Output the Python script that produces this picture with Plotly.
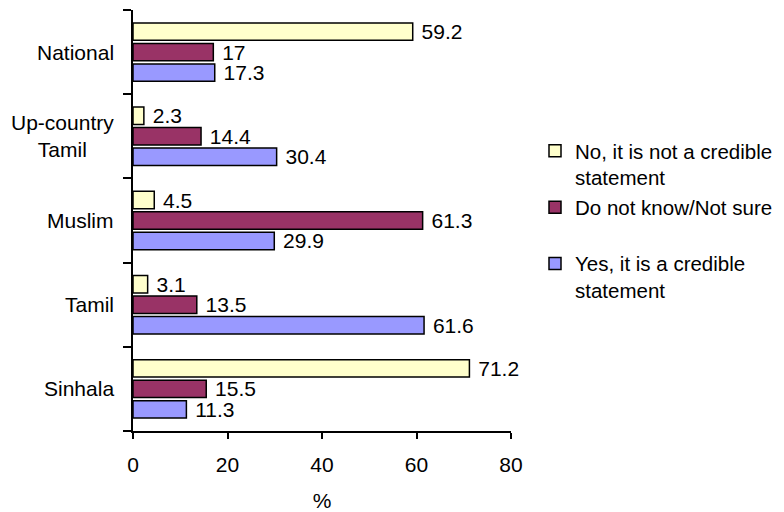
import plotly.graph_objects as go

categories = ["Sinhala", "Tamil", "Muslim", "Up-country Tamil", "National"]
category_labels = ["Sinhala", "Tamil", "Muslim", "Up-country<br>Tamil", "National"]
no_values = [71.2, 3.1, 4.5, 2.3, 59.2]
dk_values = [15.5, 13.5, 61.3, 14.4, 17]
yes_values = [11.3, 61.6, 29.9, 30.4, 17.3]
series_names = ["No, it is not a credible<br>statement",
                "Do not know/Not sure<br>\u00a0",
                "Yes, it is a credible<br>statement"]
x_ticks = [0, 20, 40, 60, 80]

FONT = "Liberation Sans, Arial, sans-serif"
FS = 21

fig = go.Figure()
for name, vals, col in [
    (series_names[2], yes_values, "#9999FF"),
    (series_names[1], dk_values, "#993366"),
    (series_names[0], no_values, "#FFFFCC"),
]:
    fig.add_trace(go.Bar(
        y=categories, x=vals, name=name, orientation="h",
        marker=dict(color=col, line=dict(color="black", width=1.5)),
        texttemplate="\u00a0%{x}", textposition="outside",
        textfont=dict(family=FONT, size=FS, color="black"),
        constraintext="none", cliponaxis=False,
    ))

for cat, lab in zip(categories, category_labels):
    fig.add_annotation(x=0, xref="paper", y=cat, yref="y", text=lab,
                       showarrow=False, xanchor="right", yanchor="middle",
                       xshift=-17, align="center",
                       font=dict(family=FONT, size=FS, color="black"))

fig.update_layout(
    width=784, height=512,
    margin=dict(l=133, r=273, t=10, b=81),
    paper_bgcolor="white", plot_bgcolor="white",
    barmode="group", bargap=0.27, bargroupgap=0.15,
    font=dict(family=FONT, size=FS, color="black"),
    legend=dict(xref="container", yref="container",
                x=535 / 784, y=1 - 131 / 512, xanchor="left", yanchor="top",
                traceorder="reversed", valign="top",
                font=dict(family=FONT, size=20.5, color="black"),
                bgcolor="rgba(0,0,0,0)"),
    showlegend=True,
)
fig.update_xaxes(range=[0, 80], tickvals=x_ticks, showgrid=False, zeroline=False,
                 showline=True, linecolor="black", linewidth=1.5,
                 ticks="outside", ticklen=6, tickwidth=1.5, tickcolor="black",
                 ticklabelstandoff=8, automargin=False,
                 title=dict(text="%", standoff=21, font=dict(family=FONT, size=FS)),
                 tickfont=dict(family=FONT, size=FS))
fig.update_yaxes(categoryorder="array", categoryarray=categories, automargin=False,
                 showgrid=False, zeroline=False, showline=True, linecolor="black",
                 linewidth=1.5, ticks="outside", ticklen=8, tickwidth=1.5,
                 tickcolor="black", tickson="boundaries", showticklabels=False)

fig.write_html("out.html", config={"displayModeBar": False},
               post_script="document.body.style.margin='0px';")
